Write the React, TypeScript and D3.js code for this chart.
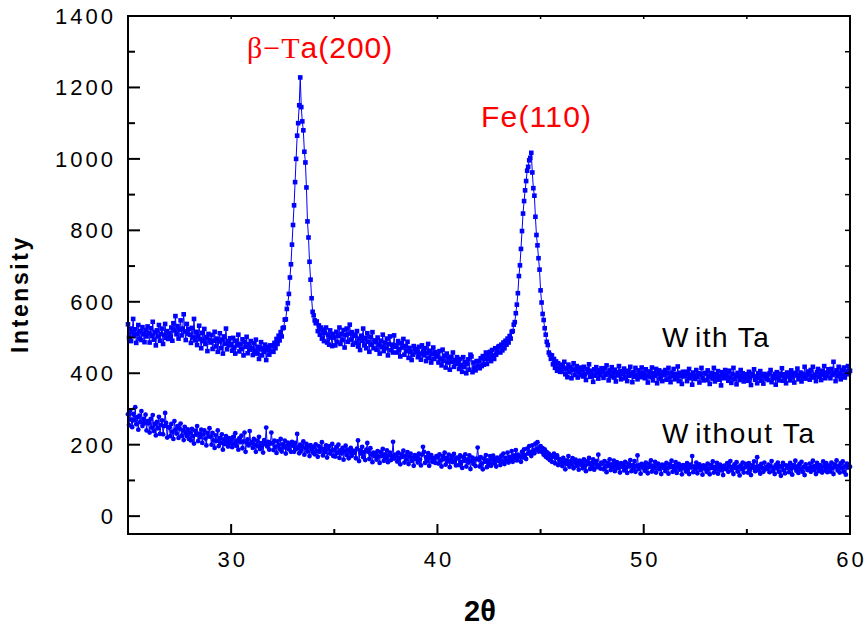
import React from 'react';
import * as d3 from 'd3';

// 2θ sampling grid of the diffractometer scan
const TWO_THETA_START = 25;
const TWO_THETA_STEP = 0.05;

// Intensity, film "With Ta" (25.00° … 60.00°, step 0.05°), one row per degree
const withTa: number[] = [
  537, 500, 525, 490, 515, 552, 505, 523, 485, 510, 535, 497, 518, 493, 529, 509, 487, 521, 503, 531,
  512, 486, 526, 505, 544, 494, 515, 478, 520, 503, 535, 491, 510, 525, 482, 507, 538, 499, 518, 496,
  512, 502, 528, 491, 540, 520, 560, 509, 532, 497, 522, 548, 506, 525, 565, 517, 493, 538, 511, 524,
  508, 485, 527, 500, 552, 492, 516, 479, 504, 533, 495, 470, 513, 490, 524, 482, 501, 462, 510, 493,
  486, 507, 468, 491, 516, 475, 497, 460, 489, 512, 470, 494, 455, 503, 482, 525, 467, 490, 478, 498,
  482, 463, 499, 472, 455, 491, 478, 508, 461, 482, 468, 495, 450, 488, 474, 502, 456, 481, 466, 490,
  470, 451, 484, 463, 494, 455, 474, 440, 467, 487, 450, 471, 460, 480, 437, 465, 474, 452, 478, 462,
  478, 460, 485, 470, 496, 482, 505, 492, 515, 503, 526, 528, 550, 551, 580, 596, 622, 668, 705, 760,
  815, 870, 935, 1000, 1065, 1100, 1150, 1228, 1145, 1105, 1080, 1020, 990, 920, 825, 780, 712, 662, 610, 572,
  562, 548, 540, 545, 518, 534, 508, 528, 497, 522, 490, 513, 528, 486, 508, 480, 520, 500, 476, 510,
  500, 478, 516, 487, 505, 528, 482, 510, 493, 521, 472, 507, 525, 488, 511, 536, 494, 515, 480, 505,
  508, 485, 518, 475, 497, 465, 505, 491, 525, 478, 499, 470, 512, 488, 460, 502, 480, 515, 470, 492,
  488, 466, 500, 479, 455, 491, 474, 508, 462, 486, 470, 497, 450, 482, 503, 464, 480, 458, 506, 474,
  478, 458, 490, 467, 447, 484, 472, 496, 452, 476, 462, 488, 443, 471, 460, 437, 452, 476, 468, 458,
  466, 445, 474, 455, 438, 478, 460, 450, 470, 434, 457, 482, 443, 463, 430, 454, 472, 440, 459, 447,
  451, 430, 462, 441, 422, 466, 435, 449, 416, 455, 430, 443, 410, 446, 432, 458, 418, 437, 426, 445,
  430, 412, 440, 423, 404, 445, 418, 432, 400, 427, 439, 410, 452, 447, 403, 430, 416, 408, 434, 420,
  434, 414, 442, 420, 448, 424, 440, 458, 426, 449, 439, 460, 434, 465, 450, 440, 470, 452, 462, 474,
  476, 458, 480, 464, 486, 470, 491, 480, 497, 486, 504, 497, 516, 518, 536, 543, 568, 592, 624, 672,
  702, 748, 798, 847, 882, 912, 938, 967, 978, 996, 1003, 1017, 962, 918, 897, 838, 787, 758, 722, 690,
  632, 598, 566, 549, 526, 508, 488, 479, 458, 452, 440, 450, 425, 440, 415, 433, 407, 428, 414, 404,
  424, 404, 416, 432, 397, 413, 389, 424, 403, 417, 386, 410, 428, 395, 408, 420, 388, 404, 416, 395,
  410, 391, 418, 398, 381, 412, 402, 425, 390, 407, 396, 376, 411, 393, 417, 401, 385, 408, 395, 414,
  405, 387, 414, 395, 422, 400, 380, 408, 392, 417, 401, 388, 410, 377, 403, 394, 420, 398, 383, 406,
  397, 413, 386, 404, 378, 407, 393, 418, 398, 375, 403, 390, 415, 395, 383, 408, 400, 389, 416, 392,
  402, 386, 411, 393, 374, 405, 398, 389, 416, 380, 400, 393, 412, 372, 398, 408, 385, 395, 378, 404,
  395, 409, 382, 400, 415, 388, 375, 402, 393, 412, 383, 398, 390, 419, 378, 401, 392, 370, 404, 396,
  391, 404, 378, 398, 412, 386, 396, 368, 402, 393, 384, 409, 389, 400, 374, 397, 415, 387, 380, 401,
  399, 381, 408, 390, 370, 401, 395, 385, 415, 377, 397, 388, 406, 382, 393, 366, 403, 396, 386, 409,
  391, 402, 379, 407, 388, 373, 398, 415, 383, 394, 369, 401, 392, 381, 409, 389, 400, 377, 396, 385,
  397, 379, 404, 388, 367, 399, 393, 411, 382, 391, 372, 400, 386, 406, 379, 394, 371, 398, 390, 384,
  396, 381, 400, 409, 375, 391, 386, 398, 368, 403, 388, 380, 399, 393, 414, 379, 397, 386, 372, 402,
  391, 400, 380, 408, 388, 397, 374, 401, 394, 413, 383, 392, 402, 377, 398, 389, 418, 385, 395, 405,
  400, 382, 409, 392, 418, 388, 396, 378, 403, 412, 390, 399, 381, 407, 395, 420, 386, 402, 392, 411,
  404, 386, 412, 395, 432, 400, 378, 408, 391, 418, 398, 383, 409, 394, 416, 388, 406, 397, 420, 401,
  407,
];

// Intensity, film "Without Ta" (same 2θ grid)
const withoutTa: number[] = [
  285, 255, 296, 270, 249, 286, 268, 305, 257, 277, 242, 281, 263, 294, 252, 272, 260, 284, 240, 266,
  260, 234, 272, 248, 283, 238, 258, 226, 264, 246, 278, 230, 255, 268, 229, 252, 289, 261, 220, 249,
  248, 224, 258, 236, 216, 266, 242, 231, 252, 219, 245, 259, 225, 240, 213, 250, 233, 224, 243, 216,
  234, 212, 244, 224, 203, 239, 228, 252, 210, 231, 221, 242, 205, 229, 240, 217, 198, 233, 223, 246,
  222, 200, 233, 212, 191, 226, 210, 240, 196, 218, 205, 229, 186, 215, 202, 224, 209, 195, 218, 204,
  214, 193, 222, 203, 232, 197, 211, 186, 218, 207, 225, 190, 209, 234, 180, 206, 215, 198, 238, 203,
  207, 191, 216, 199, 180, 211, 196, 222, 188, 204, 197, 178, 213, 202, 248, 195, 208, 186, 203, 234,
  204, 185, 211, 194, 177, 209, 199, 188, 216, 181, 201, 192, 211, 175, 197, 206, 187, 200, 180, 208,
  197, 180, 205, 188, 230, 193, 176, 200, 183, 195, 209, 172, 191, 202, 181, 194, 168, 199, 186, 178,
  193, 173, 201, 183, 166, 196, 180, 189, 207, 170, 188, 179, 198, 164, 187, 196, 175, 183, 202, 168,
  186, 167, 194, 177, 200, 163, 184, 175, 191, 158, 182, 197, 171, 186, 162, 180, 191, 169, 183, 177,
  181, 162, 189, 212, 154, 184, 175, 194, 165, 179, 157, 186, 205, 180, 160, 190, 172, 151, 178, 168,
  176, 158, 182, 167, 149, 179, 168, 188, 155, 173, 162, 184, 151, 170, 178, 157, 168, 208, 161, 172,
  171, 153, 178, 162, 145, 173, 166, 183, 150, 169, 158, 179, 146, 167, 175, 155, 164, 141, 171, 160,
  168, 150, 175, 159, 142, 172, 194, 180, 149, 165, 154, 176, 141, 163, 171, 152, 162, 158, 149, 168,
  165, 147, 173, 156, 139, 168, 159, 178, 144, 163, 153, 172, 137, 159, 168, 151, 174, 155, 142, 164,
  162, 143, 170, 151, 135, 165, 155, 173, 139, 159, 150, 170, 132, 155, 164, 146, 158, 140, 161, 192,
  158, 139, 165, 147, 131, 161, 152, 171, 137, 156, 147, 168, 141, 158, 169, 148, 160, 139, 164, 154,
  161, 143, 169, 153, 175, 146, 163, 155, 178, 150, 166, 159, 182, 152, 170, 162, 185, 156, 172, 164,
  169, 152, 180, 164, 187, 171, 160, 189, 175, 196, 179, 168, 198, 184, 176, 203, 187, 207, 181, 192,
  196, 180, 190, 172, 187, 166, 179, 162, 175, 157, 170, 152, 166, 175, 148, 163, 170, 143, 160, 150,
  157, 140, 163, 149, 131, 156, 146, 168, 138, 153, 145, 162, 134, 151, 158, 141, 150, 130, 155, 144,
  151, 134, 159, 142, 126, 153, 145, 163, 132, 149, 139, 159, 130, 147, 154, 137, 172, 143, 133, 150,
  147, 131, 154, 139, 123, 149, 141, 159, 129, 145, 137, 155, 126, 143, 151, 134, 145, 122, 148, 138,
  144, 128, 152, 137, 121, 147, 139, 157, 126, 143, 134, 154, 124, 141, 170, 132, 143, 119, 146, 136,
  143, 127, 150, 136, 120, 146, 138, 156, 125, 141, 133, 152, 122, 140, 147, 131, 141, 118, 144, 135,
  142, 126, 149, 135, 119, 145, 137, 155, 124, 140, 132, 151, 121, 139, 146, 130, 140, 117, 143, 134,
  141, 125, 148, 134, 118, 144, 136, 168, 123, 139, 131, 150, 120, 138, 145, 129, 139, 116, 142, 133,
  140, 124, 147, 133, 117, 143, 135, 153, 122, 138, 130, 149, 119, 137, 144, 128, 138, 115, 141, 132,
  133, 148, 124, 139, 154, 128, 137, 118, 145, 135, 151, 125, 138, 114, 142, 132, 150, 122, 136, 146,
  139, 122, 148, 132, 115, 142, 135, 153, 126, 138, 165, 128, 140, 119, 146, 134, 124, 150, 131, 137,
  132, 144, 123, 139, 154, 127, 136, 118, 143, 134, 150, 124, 140, 113, 138, 149, 128, 120, 142, 135,
  140, 123, 149, 134, 116, 143, 136, 155, 127, 139, 121, 146, 132, 152, 124, 137, 115, 145, 135, 129,
  134, 147, 124, 137, 155, 129, 140, 118, 149, 135, 126, 143, 132, 122, 153, 139, 128, 148, 123, 136,
  141, 125, 150, 135, 118, 145, 137, 156, 128, 140, 122, 148, 134, 153, 124, 139, 116, 147, 136, 143,
  138,
];

const xTicksMajor = [30, 40, 50, 60];
const xTicksMinor = [25, 35, 45, 55];
const xTickLabels = ['30', '40', '50', '60'];
const yTicksMajor = [0, 200, 400, 600, 800, 1000, 1200, 1400];
const yTicksMinor = [100, 300, 500, 700, 900, 1100, 1300];
const yTickLabels = ['0', '200', '400', '600', '800', '1000', '1200', '1400'];

const BLUE = '#0000ff';
const RED = '#ff0000';
const SANS = '"Liberation Sans", Arial, Helvetica, sans-serif';
const SERIF = '"Liberation Serif", "Times New Roman", serif';

export default function App() {
  const left = 128, right = 850, top = 16, bottom = 534;
  const x = d3.scaleLinear().domain([25, 60]).range([left, right]);
  const y = d3.scaleLinear().domain([-50, 1400]).range([bottom, top]);

  const ptsWith: [number, number][] = withTa.map((v, i) => [TWO_THETA_START + i * TWO_THETA_STEP, v]);
  const ptsWithout: [number, number][] = withoutTa.map((v, i) => [TWO_THETA_START + i * TWO_THETA_STEP, v]);
  const line = d3.line<[number, number]>().x(d => x(d[0])).y(d => y(d[1]));

  const allY = d3.range(0, 1401, 100);
  const topTicks = d3.range(25, 61, 5);

  return (
    <svg width={867} height={628} style={{ position: 'absolute', left: 0, top: 0, background: '#fff' }}
      xmlns="http://www.w3.org/2000/svg">
      <rect x={0} y={0} width={867} height={628} fill="#fff" />

      {/* data */}
      <g>
        <path d={line(ptsWithout) || ''} fill="none" stroke={BLUE} strokeWidth={1} />
        {ptsWithout.map((d, i) => (
          <circle key={'c' + i} cx={x(d[0])} cy={y(d[1])} r={2.4} fill={BLUE} />
        ))}
        <path d={line(ptsWith) || ''} fill="none" stroke={BLUE} strokeWidth={1} />
        {ptsWith.map((d, i) => (
          <rect key={'s' + i} x={x(d[0]) - 2.3} y={y(d[1]) - 2.3} width={4.6} height={4.6} fill={BLUE} />
        ))}
      </g>

      {/* frame */}
      <rect x={left} y={top} width={right - left} height={bottom - top} fill="none" stroke="#000" strokeWidth={2} />

      {/* left ticks */}
      {yTicksMajor.map(t => (
        <line key={'yl' + t} x1={left} x2={left + 12} y1={y(t)} y2={y(t)} stroke="#000" strokeWidth={2} />
      ))}
      {yTicksMinor.map(t => (
        <line key={'ym' + t} x1={left} x2={left + 7} y1={y(t)} y2={y(t)} stroke="#000" strokeWidth={2} />
      ))}
      {/* right ticks */}
      {allY.map(t => (
        <line key={'yr' + t} x1={right} x2={right - 5} y1={y(t)} y2={y(t)} stroke="#000" strokeWidth={1.5} />
      ))}
      {/* bottom ticks */}
      {xTicksMajor.map(t => (
        <line key={'xb' + t} x1={x(t)} x2={x(t)} y1={bottom} y2={bottom - 10} stroke="#000" strokeWidth={2} />
      ))}
      {xTicksMinor.map(t => (
        <line key={'xm' + t} x1={x(t)} x2={x(t)} y1={bottom} y2={bottom - 5} stroke="#000" strokeWidth={2} />
      ))}
      {/* top ticks */}
      {topTicks.map(t => (
        <line key={'xt' + t} x1={x(t)} x2={x(t)} y1={top} y2={top + 3} stroke="#000" strokeWidth={1.5} />
      ))}

      {/* tick labels */}
      {yTicksMajor.map((t, i) => (
        <text key={'ytl' + t} x={116} y={y(t)} dy="0.36em" textAnchor="end" fontFamily={SANS}
          fontSize={22} letterSpacing={3} fill="#000">{yTickLabels[i]}</text>
      ))}
      {xTicksMajor.map((t, i) => (
        <text key={'xtl' + t} x={x(t) + 1.5} y={567} textAnchor="middle" fontFamily={SANS}
          fontSize={22} letterSpacing={3} fill="#000">{xTickLabels[i]}</text>
      ))}

      {/* axis titles */}
      <text x={480} y={621} textAnchor="middle" fontFamily={SANS} fontWeight="bold" fontSize={29} fill="#000">2θ</text>
      <text transform="translate(28,294) rotate(-90)" textAnchor="middle" fontFamily={SANS} fontWeight="bold"
        fontSize={23} letterSpacing={2.6} fill="#000">Intensity</text>

      {/* peak annotations */}
      <text x={247} y={58} fontFamily={SANS} fontSize={30} letterSpacing={1} fill={RED}>
        <tspan fontFamily={SERIF}>β−T</tspan><tspan>a(200)</tspan>
      </text>
      <text x={481} y={127} fontFamily={SANS} fontSize={30} letterSpacing={1.2} fill={RED}>Fe(110)</text>

      {/* series labels */}
      <text x={662} y={346.5} fontFamily={SANS} fontSize={28} letterSpacing={1.5} fill="#000">
        <tspan>W</tspan><tspan dx={5}>ith Ta</tspan>
      </text>
      <text x={662} y={443} fontFamily={SANS} fontSize={28} letterSpacing={1.7} fill="#000">
        <tspan>W</tspan><tspan dx={5}>ithout Ta</tspan>
      </text>
    </svg>
  );
}
